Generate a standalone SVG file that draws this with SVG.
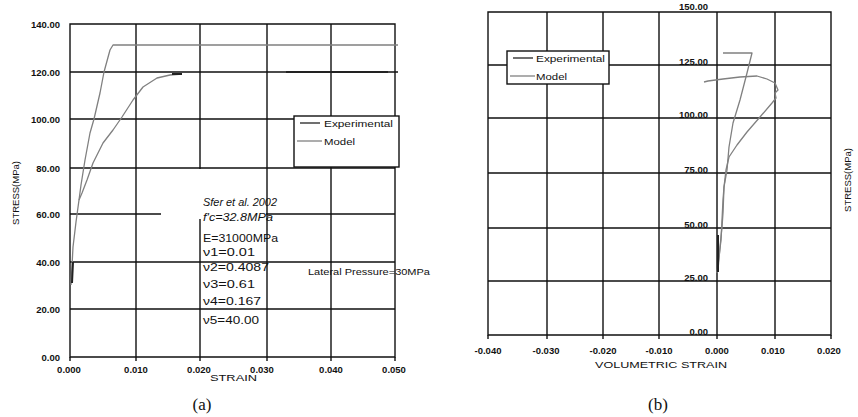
<svg xmlns="http://www.w3.org/2000/svg" width="858" height="417" viewBox="0 0 858 417">
<style>
.bg{fill:#fff}
.grid{stroke:#111;stroke-width:1.4;fill:none}
.box{stroke:#111;stroke-width:1.4;fill:#fff}
.cv{stroke:#808080;stroke-width:1.3;fill:none;stroke-linejoin:round}
.dk{stroke:#222;stroke-width:2;fill:none}
.tk{font-family:"Liberation Sans",Arial,sans-serif;font-size:9.5px;font-weight:bold;fill:#111}
.ax{font-family:"Liberation Sans",Arial,sans-serif;font-size:9.5px;fill:#111}
.ann{font-family:"Liberation Sans",Arial,sans-serif;font-size:11px;fill:#111}
.cap{font-family:"Liberation Serif","Times New Roman",serif;font-size:17px;fill:#111}
</style>
<rect class="bg" x="0" y="0" width="858" height="417"/>

<g id="chart-a">
  <g id="grid-a">
    <path class="grid" d="M70,24H395V357H70Z"/>
    <path class="grid" d="M70,357V361M136,24V361M200,24V169M200,219V361M267,24V361M331,24V361M395,357V361"/>
    <path class="grid" d="M70,72H398M70,119H294M70,168H395M70,214H161M266,214H395M70,262H395M70,309H395"/>
  </g>
  <g id="ticks-a">
    <text class="tk" x="60" y="27.5" text-anchor="end">140.00</text>
    <text class="tk" x="60" y="75.5" text-anchor="end">120.00</text>
    <text class="tk" x="60" y="122.5" text-anchor="end">100.00</text>
    <text class="tk" x="60" y="171.5" text-anchor="end">80.00</text>
    <text class="tk" x="60" y="217.5" text-anchor="end">60.00</text>
    <text class="tk" x="60" y="265.5" text-anchor="end">40.00</text>
    <text class="tk" x="60" y="312.5" text-anchor="end">20.00</text>
    <text class="tk" x="60" y="360.5" text-anchor="end">0.00</text>
    <text class="tk" x="69" y="373" text-anchor="middle">0.000</text>
    <text class="tk" x="136" y="373" text-anchor="middle">0.010</text>
    <text class="tk" x="199" y="373" text-anchor="middle">0.020</text>
    <text class="tk" x="262" y="373" text-anchor="middle">0.030</text>
    <text class="tk" x="331" y="373" text-anchor="middle">0.040</text>
    <text class="tk" x="394" y="373" text-anchor="middle">0.050</text>
    <text class="ax" x="210" y="381" textLength="47" lengthAdjust="spacingAndGlyphs">STRAIN</text>
    <text class="ax" transform="translate(19,193) rotate(-90)" text-anchor="middle">STRESS(MPa)</text>
  </g>
  <g id="curves-a">
    <polyline class="cv" points="71,285 73,247 76,222 79,200 81,185 85,160 90,133 94,119 100,93 104,72 110,50 113,45 398,45"/>
    <polyline class="cv" points="79,200 82,193 87,180 93,163 103,143 113,130 122,117 133,100 143,87 157,78 170,75 182,74"/>
    <path class="dk" d="M172,74H182M286,72H388M72,283L73,262"/>
  </g>
  <g id="legend-a">
    <rect class="box" x="294" y="116" width="105" height="51"/>
    <line x1="300" y1="123" x2="320" y2="123" stroke="#222" stroke-width="1.3"/>
    <text class="ax" x="324" y="126.5" textLength="69" lengthAdjust="spacingAndGlyphs">Experimental</text>
    <line x1="297" y1="141" x2="322" y2="141" stroke="#808080" stroke-width="1.3"/>
    <text class="ax" x="324" y="144.5" textLength="31" lengthAdjust="spacingAndGlyphs">Model</text>
  </g>
  <g id="annotation-a">
    <rect class="bg" x="161" y="170" width="105" height="49"/>
    <text class="ann" x="203" y="206" font-style="italic" textLength="74" lengthAdjust="spacingAndGlyphs">Sfer et al. 2002</text>
    <text class="ann" x="203" y="221" font-style="italic" textLength="70" lengthAdjust="spacingAndGlyphs">f'c=32.8MPa</text>
    <text class="ann" x="203" y="242" textLength="75" lengthAdjust="spacingAndGlyphs">E=31000MPa</text>
    <text class="ann" x="203" y="256" textLength="52" lengthAdjust="spacingAndGlyphs">ν1=0.01</text>
    <text class="ann" x="203" y="271" textLength="66" lengthAdjust="spacingAndGlyphs">ν2=0.4087</text>
    <text class="ann" x="203" y="288" textLength="52" lengthAdjust="spacingAndGlyphs">ν3=0.61</text>
    <text class="ann" x="203" y="305" textLength="58" lengthAdjust="spacingAndGlyphs">ν4=0.167</text>
    <text class="ann" x="203" y="324" textLength="56" lengthAdjust="spacingAndGlyphs">ν5=40.00</text>
    <text class="ax" x="308" y="274.5" textLength="122" lengthAdjust="spacingAndGlyphs">Lateral Pressure=30MPa</text>
  </g>
  <text class="cap" x="202" y="410" text-anchor="middle">(a)</text>
</g>

<g id="chart-b">
  <g id="grid-b">
    <path class="grid" d="M488,12H831V335H488Z"/>
    <path class="grid" d="M488,335V339M547,12V339M603,12V339M659,12V339M717,12V339M775,12V339M831,335V339"/>
    <path class="grid" d="M488,65H831M488,118H831M488,173H831M488,228H831M488,281H831"/>
  </g>
  <g id="ticks-b">
    <text class="tk" x="708" y="10" text-anchor="end">150.00</text>
    <text class="tk" x="708" y="65" text-anchor="end">125.00</text>
    <text class="tk" x="708" y="118" text-anchor="end">100.00</text>
    <text class="tk" x="708" y="173" text-anchor="end">75.00</text>
    <text class="tk" x="708" y="228" text-anchor="end">50.00</text>
    <text class="tk" x="708" y="281" text-anchor="end">25.00</text>
    <text class="tk" x="708" y="335" text-anchor="end">0.00</text>
    <text class="tk" x="488" y="354" text-anchor="middle">-0.040</text>
    <text class="tk" x="546" y="354" text-anchor="middle">-0.030</text>
    <text class="tk" x="603" y="354" text-anchor="middle">-0.020</text>
    <text class="tk" x="659" y="354" text-anchor="middle">-0.010</text>
    <text class="tk" x="717" y="354" text-anchor="middle">0.000</text>
    <text class="tk" x="773" y="354" text-anchor="middle">0.010</text>
    <text class="tk" x="829" y="354" text-anchor="middle">0.020</text>
    <text class="ax" x="595" y="367.5" textLength="132" lengthAdjust="spacingAndGlyphs">VOLUMETRIC STRAIN</text>
    <text class="ax" transform="translate(851,180) rotate(-90)" text-anchor="middle">STRESS(MPa)</text>
  </g>
  <g id="curves-b">
    <polyline class="cv" points="723,53 752,53 747,73 740,100 733,123 729,147 727,170 724,187 723,213 722,227 720,247 718,270"/>
    <polyline class="cv" points="704,82 708,81 723,79 740,77 757,76 767,79 775,83 778,90 775,93 776,98 772,103 760,117 747,132 737,145 729,157 726,170 724,187 723,200 722,220 721,240 719,257 717,273"/>
    <path class="dk" d="M718,235V272"/>
  </g>
  <g id="legend-b">
    <rect class="box" x="507" y="51" width="102" height="33"/>
    <line x1="513" y1="58" x2="533" y2="58" stroke="#222" stroke-width="1.3"/>
    <text class="ax" x="536" y="61.5" textLength="69" lengthAdjust="spacingAndGlyphs">Experimental</text>
    <line x1="510" y1="76" x2="535" y2="76" stroke="#808080" stroke-width="1.3"/>
    <text class="ax" x="536" y="79.5" textLength="31" lengthAdjust="spacingAndGlyphs">Model</text>
  </g>
  <text class="cap" x="658" y="410" text-anchor="middle">(b)</text>
</g>
</svg>
